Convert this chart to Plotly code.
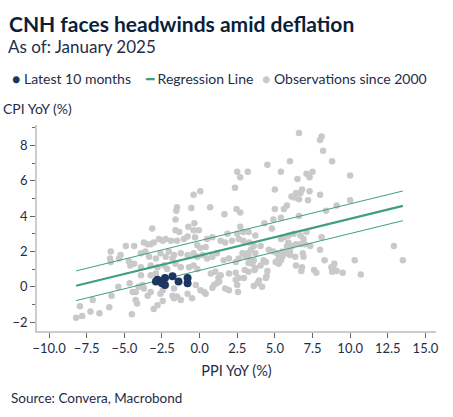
import plotly.graph_objects as go

# ---- data ----
ppi_obs = [6.6, 8.0, 8.1, 8.2, 8.8, 6.0, 4.5, 2.5, 3.2, 2.7, 5.4, 7.1, 7.3, 7.5, 6.5, 10.0,
           2.35, 5.0, 6.8, 6.7, 6.4, 7.3, 6.1, 6.3, 6.6, 7.2, 8.0, 10.0, 9.1, 8.4,
           2.45, 2.7, 5.0, 5.6, 5.8, 6.6, 5.4, 4.9, 4.3, 4.8, 2.7, 2.9, 2.5,
           8.1, 6.7, 6.9, 7.1, 5.4, 5.6, 5.9, 6.25, 2.9, 3.3, 3.6, 3.4, 3.15, 4.05,
           4.6, 4.9, 5.15, 5.5, 5.9, 6.15, 6.4, 6.7, 7.0, 8.0, 12.9, 13.5, 10.3, 10.7,
           9.5, 8.75, 8.95, 8.9, 8.8, 9.1, 8.3, 7.6, 7.75, 6.75, 6.4, 6.85, 6.9, 6.0,
           5.7, 5.4, 5.25, 4.5, 4.45, 4.05, 4.25, 3.65, 3.7, 3.4, 3.5, 3.25, 3.05,
           3.6, 3.85, 3.95, 3.0, 2.95, 2.4, 2.5, 2.55, 2.4, 7.35, 6.8, 5.8, 6.0, 6.35,
           5.5, 5.25, 5.05, 4.4, 3.6, 4.4, 4.15, 1.7, 1.95, 0.95, 0.85, 1.3, 0.05,
           0.3, 0.4, 0.75, 1.05, 1.25, 1.4, 1.95, 2.6, 3.25, 0.2, 0.5, 0.85, 1.15,
           1.6, 1.95, 2.4, 2.6, -0.15, 0.05, 0.4, 2.85, 3.25, 3.7, 0.5, 0.85, 1.4,
           1.7, 2.15, 2.6, 1.85, 3.25, 3.7, -0.05, 0.05, -0.4, -1.5, -1.55, -0.55,
           0.7, 1.65, -1.6, -0.35, -0.75, -3.15, -1.6, -1.35, -0.4, -0.8, -0.3,
           -2.7, -2.45, -2.25, -1.9, -1.5, -1.05, -3.7, -3.45, -3.25, -3.05, -4.9,
           -4.35, -5.9, -5.95, -5.9, -5.25, -5.35, -4.7, -4.6, -3.9, -3.6, -3.35,
           -2.9, -2.6, -2.25, -2.05, -1.8, -1.7, -1.25, -0.8, -0.4, -0.15, -4.35,
           -3.9, -3.25, -2.8, -2.35, -2.15, -1.6, -1.25, -0.7, -0.4, -0.15, -3.25,
           -2.9, -3.9, -5.4, -4.65, -4.05, -3.8, -3.7, -4.45, -4.25, -3.45, -3.25,
           -5.85, -7.1, -7.95, -7.25, -6.65, -8.2, -7.8, -6.0, -4.5, -4.15, -4.25,
           -3.05, -2.8, -2.45, -1.8, -1.7, -1.5, -1.25, -0.8, -0.5, -2.6, -2.45,
           -1.7, -0.25, 1.15]
cpi_obs = [8.7, 8.3, 8.5, 7.7, 7.1, 7.1, 6.9, 6.5, 6.5, 6.2, 6.5, 6.4, 6.2, 6.5, 6.1, 6.3,
           5.6, 5.5, 5.5, 5.3, 5.3, 5.4, 5.1, 5.05, 4.95, 4.9, 5.2, 4.9, 4.6, 4.3,
           4.4, 4.2, 4.4, 4.4, 4.6, 4.0, 3.9, 3.8, 3.6, 3.3, 3.4, 3.1, 3.0,
           2.8, 2.9, 2.7, 3.1, 2.7, 2.8, 2.9, 3.0, 2.6, 2.5, 2.3, 2.1, 1.9, 2.3,
           2.1, 2.0, 1.9, 2.0, 2.5, 2.3, 2.4, 2.4, 2.4, 2.1, 2.3, 1.5, 1.5, 0.7,
           0.8, 1.1, 1.3, 1.0, 0.85, 0.9, 1.5, 0.95, 0.8, 0.9, 1.2, 1.9, 1.7, 1.8,
           1.9, 1.5, 1.3, 0.9, 0.6, 1.2, 1.5, 0.95, 1.05, 1.5, 1.3, 1.35, 1.7,
           0.05, 0.2, 0.35, 0.95, 0.5, 0.4, 0.1, -0.3, 0.8, 2.3, 1.1, 2.3, 2.0, 1.7,
           1.7, 1.6, 1.4, 1.4, 1.5, 0.5, 0.0, -0.1, -0.2, 0.1, -0.05, 0.3, -0.2,
           -0.3, -0.4, 0.75, 0.85, 0.5, 0.65, 0.75, 0.5, 0.85, 1.8, 1.6, 1.7, 1.9,
           1.5, 1.6, 1.4, 1.6, 2.35, 2.2, 2.25, 1.9, 1.8, 1.9, 2.7, 2.8, 2.6,
           2.5, 2.6, 2.7, 3.0, 3.1, 2.9, 3.2, 5.4, 5.2, 4.5, 4.3, 4.45,
           4.5, 4.1, 3.8, 3.6, 3.4, 3.3, 3.2, 3.1, 3.2, 2.85, 2.8,
           2.7, 2.6, 2.7, 2.6, 2.6, 2.7, 2.5, 2.4, 2.4, 2.5, 2.3,
           2.3, 2.0, 1.6, 1.4, 1.8, 1.6, 1.45, 1.2, 1.9, 2.0, 1.7,
           1.6, 1.9, 1.7, 2.0, 1.6, 1.8, 1.9, 1.8, 1.9, 1.7, 1.3,
           1.1, 1.2, 1.1, 1.2, 1.0, 1.3, 1.1, 1.1, 1.2, 1.0, 0.65,
           0.75, 0.65, 0.0, 0.2, 0.0, 0.1, -0.1, -0.3, -0.3, -0.5, -0.3,
           -0.5, -0.75, -1.1, -1.4, -1.5, -1.75, -1.65, -1.15, -1.55, -0.95, -0.75,
           -1.25, -1.05, -0.8, -0.5, -0.65, -0.55, -0.75, -0.4, -0.65, -0.4, -0.2,
           -0.1, 0.1, 0.2]

# latest 10 months (Apr 2024 - Jan 2025)
ppi_latest = [-2.5, -1.4, -0.8, -0.8, -1.8, -2.8, -2.9, -2.5, -2.3, -2.3]
cpi_latest = [0.3, 0.3, 0.2, 0.5, 0.6, 0.4, 0.3, 0.2, 0.1, 0.5]

# regression line and band, read at the line ends
reg_x = [-8.2, 13.5]
reg_y = [0.06, 4.58]
reg_upper = [0.9, 5.42]
reg_lower = [-0.78, 3.74]

x_ticks = [-10.0, -7.5, -5.0, -2.5, 0.0, 2.5, 5.0, 7.5, 10.0, 12.5, 15.0]
y_ticks = [-2, 0, 2, 4, 6, 8]

NAVY = "#1b3660"
GREEN = "#3f9e84"
GREY = "#c9c9c9"
TEXT = "#1f2d47"
FONT = "Lato"

W, H = 453, 417
ML, MR, MT, MB = 37, 17, 125, 86
PW, PH = W - ML - MR, H - MT - MB


def px(x):
    return (x - ML) / PW


def py(y):
    return (H - MB - y) / PH


fig = go.Figure()
fig.add_trace(go.Scatter(x=ppi_obs, y=cpi_obs, mode="markers", name="Observations since 2000",
                         marker=dict(color=GREY, size=6.5, line=dict(width=0))))
fig.add_trace(go.Scatter(x=reg_x, y=reg_upper, mode="lines", showlegend=False,
                         line=dict(color=GREEN, width=1)))
fig.add_trace(go.Scatter(x=reg_x, y=reg_lower, mode="lines", showlegend=False,
                         line=dict(color=GREEN, width=1)))
fig.add_trace(go.Scatter(x=reg_x, y=reg_y, mode="lines", name="Regression Line",
                         line=dict(color=GREEN, width=2.2)))
fig.add_trace(go.Scatter(x=ppi_latest, y=cpi_latest, mode="markers", name="Latest 10 months",
                         marker=dict(color=NAVY, size=8, line=dict(width=0))))

axis_common = dict(showgrid=False, zeroline=False, showline=True, linecolor="#cccccc",
                   linewidth=1.5, ticks="outside", ticklen=5, tickwidth=1, tickcolor="#666666",
                   automargin=False,
                   tickfont=dict(family=FONT, size=13, color=TEXT))

fig.update_layout(
    width=W, height=H, autosize=False,
    margin=dict(l=ML, r=MR, t=MT, b=MB),
    paper_bgcolor="white", plot_bgcolor="white",
    showlegend=False,
    font=dict(family=FONT, color=TEXT),
    xaxis=dict(range=[-10.8, 15.7], tickvals=x_ticks, tickformat=".1f",
               title=dict(text="PPI YoY (%)", font=dict(family=FONT, size=14.5, color=TEXT), standoff=11),
               **axis_common),
    yaxis=dict(range=[-2.5, 9.15], tickvals=y_ticks,
               minor=dict(ticks="outside", ticklen=3, tickcolor="#666666", dtick=1, tick0=1),
               **axis_common),
)

ann = [
    dict(text="<b>CNH faces headwinds amid deflation</b>", x=px(7), y=py(23),
         font=dict(size=21, color="#0b1f3a")),
    dict(text="As of: January 2025", x=px(6), y=py(47), font=dict(size=17, color=TEXT)),
    dict(text=f"<span style='color:{NAVY}'>●</span> Latest 10 months", x=px(10), y=py(78),
         font=dict(size=14, color=TEXT)),
    dict(text=f"<span style='color:{GREEN}'>━</span> Regression Line", x=px(143), y=py(78),
         font=dict(size=14, color=TEXT)),
    dict(text=f"<span style='color:{GREY}'>●</span> Observations since 2000", x=px(260), y=py(78),
         font=dict(size=14, color=TEXT)),
    dict(text="CPI YoY (%)", x=px(1), y=py(108), font=dict(size=14, color=TEXT)),
    dict(text="Source: Convera, Macrobond", x=px(9), y=py(398), font=dict(size=13.5, color=TEXT)),
]
for a in ann:
    a.update(xref="paper", yref="paper", xanchor="left", yanchor="middle", showarrow=False)
    a["font"]["family"] = FONT
fig.update_layout(annotations=ann)

# remove the browser's default 8px page margin so the figure sits at the window origin
fig.write_html("out.html", config={"displayModeBar": False},
               post_script="document.body.style.margin='0';")
